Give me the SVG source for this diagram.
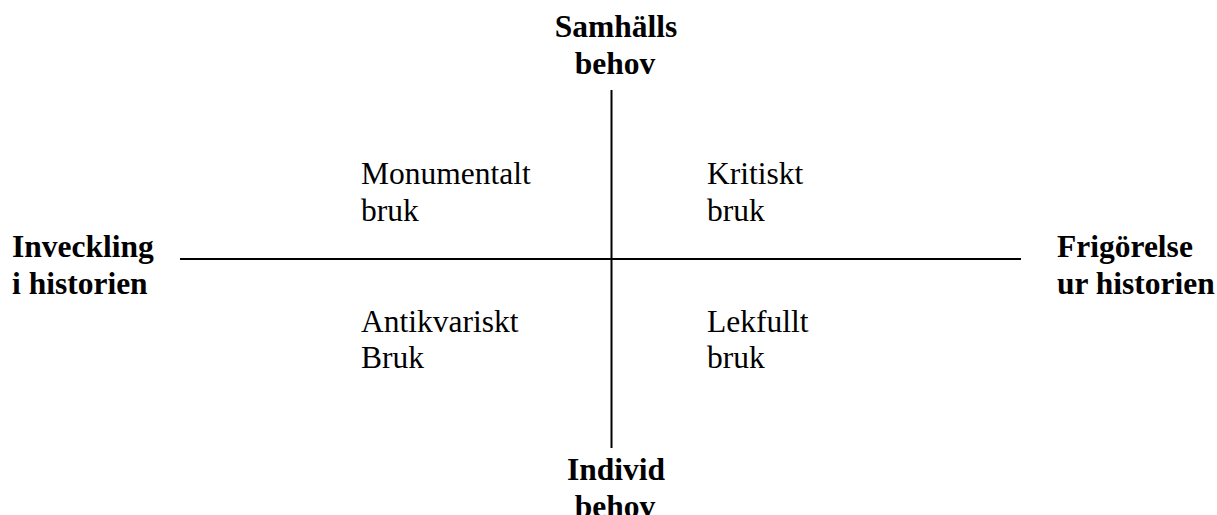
<svg xmlns="http://www.w3.org/2000/svg" width="1217" height="515" viewBox="0 0 1217 515">
<style>
.ax{stroke:#000;stroke-width:2;fill:none}
.lb{font-family:"Liberation Serif","Times New Roman",serif;font-size:31.5px;font-weight:bold;fill:#000}
.q{font-family:"Liberation Serif","Times New Roman",serif;font-size:31.5px;fill:#000}
.c{text-anchor:middle}
</style>
<rect width="1217" height="515" fill="#fff"/>
<g id="connectors">
<line class="ax" x1="611.5" y1="90" x2="611.5" y2="448"/>
<line class="ax" x1="180" y1="259" x2="1021" y2="259"/>
</g>
<g id="top"><text class="lb c" x="616" y="37">Samhälls</text><text class="lb c" x="615" y="74">behov</text></g>
<g id="bottom"><text class="lb c" x="616" y="480">Individ</text><text class="lb c" x="615" y="517">behov</text></g>
<g id="left"><text class="lb" x="12" y="257">Inveckling</text><text class="lb" x="12" y="294">i historien</text></g>
<g id="right"><text class="lb" x="1057" y="257">Frigörelse</text><text class="lb" x="1057" y="294">ur historien</text></g>
<g id="q1"><text class="q" x="361" y="184">Monumentalt</text><text class="q" x="361" y="221">bruk</text></g>
<g id="q2"><text class="q" x="707" y="184">Kritiskt</text><text class="q" x="707" y="221">bruk</text></g>
<g id="q3"><text class="q" x="361" y="332">Antikvariskt</text><text class="q" x="361" y="368">Bruk</text></g>
<g id="q4"><text class="q" x="707" y="332">Lekfullt</text><text class="q" x="707" y="368">bruk</text></g>
</svg>
